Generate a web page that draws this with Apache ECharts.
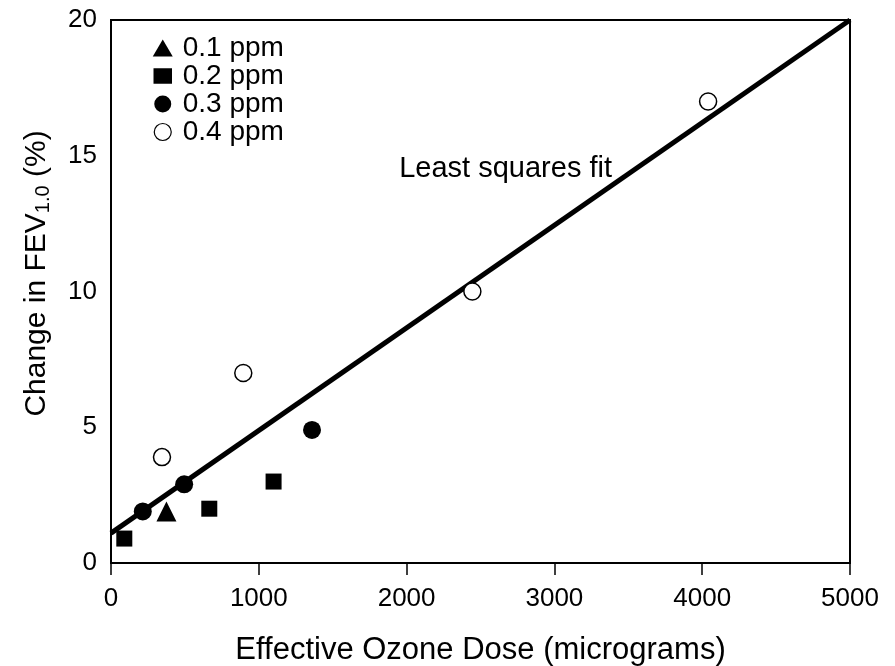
<!DOCTYPE html>
<html>
<head>
<meta charset="utf-8">
<title>Change in FEV1.0 vs Effective Ozone Dose</title>
<script src="https://cdn.jsdelivr.net/npm/echarts@6/dist/echarts.min.js"></script>
<style>
    html, body { margin: 0; padding: 0; background: #fff; }
    #chart { width: 895px; height: 666px; }
</style>
</head>
<body>
<div id="chart"></div>
<script>
    // data: [dose (micrograms), change in FEV1.0 (%)]
    var ppm01 = [[375, 1.9]];
    var ppm02 = [[90, 0.9], [665, 2.0], [1100, 3.0]];
    var ppm03 = [[215, 1.9], [495, 2.9], [1360, 4.9]];
    var ppm04 = [[345, 3.9], [895, 7.0], [2445, 10.0], [4040, 17.0]];
    var fitLine = [[0, 1.1], [5000, 20]];
    var fitLabel = [2670, 14.5];
    var xTicks = [0, 1000, 2000, 3000, 4000, 5000];
    var yTicks = [0, 5, 10, 15, 20];

    var font = 'Liberation Sans, Arial, sans-serif';
    var myChart = echarts.init(document.getElementById('chart'));

    var option = {
        backgroundColor: '#fff',
        animation: false,
        grid: {
            left: 111, right: 45, top: 20, bottom: 103,
            outerBoundsMode: 'none',
            show: true, borderColor: '#000', borderWidth: 2, backgroundColor: 'transparent'
        },
        legend: {
            orient: 'vertical',
            left: 147, top: 29,
            itemGap: 0,
            itemWidth: 20, itemHeight: 17,
            textStyle: { fontFamily: font, fontSize: 28, color: '#000', padding: [0, 0, 0, 5] },
            data: [
                { name: '0.1 ppm', icon: 'triangle' },
                { name: '0.2 ppm', icon: 'rect', itemStyle: { borderColor: '#fff', borderWidth: 1.5 } },
                { name: '0.3 ppm', icon: 'circle' },
                { name: '0.4 ppm', icon: 'circle', itemStyle: { borderColor: '#000', borderWidth: 1.2, color: '#fff' } }
            ]
        },
        xAxis: {
            type: 'value',
            min: xTicks[0], max: xTicks[xTicks.length - 1], interval: 1000,
            name: 'Effective Ozone Dose (micrograms)',
            nameLocation: 'middle', nameGap: 72,
            nameTextStyle: { fontFamily: font, fontSize: 31, color: '#000' },
            axisLine: { lineStyle: { color: '#000', width: 2 } },
            axisTick: { show: true, length: 12, lineStyle: { color: '#000', width: 1.5 } },
            axisLabel: {
                fontFamily: font, fontSize: 26, color: '#000', margin: 23,
                formatter: function (v) { return String(v); }
            },
            splitLine: { show: false }
        },
        yAxis: {
            type: 'value',
            min: yTicks[0], max: yTicks[yTicks.length - 1], interval: 5,
            name: '{n|Change in FEV}{s|1.0}{n| (%)}',
            nameLocation: 'middle', nameGap: 58,
            nameTextStyle: {
                fontFamily: font, fontSize: 30, color: '#000', padding: [0, 0, 0, 36],
                rich: {
                    n: { fontFamily: font, fontSize: 30, color: '#000' },
                    s: { fontFamily: font, fontSize: 20, color: '#000', padding: [13, 0, 0, 0] }
                }
            },
            axisLine: { show: true, lineStyle: { color: '#000', width: 2 } },
            axisTick: { show: false },
            axisLabel: { fontFamily: font, fontSize: 26, color: '#000', margin: 14 },
            splitLine: { show: false }
        },
        series: [
            {
                name: 'Least squares fit',
                type: 'line',
                data: fitLine,
                symbol: 'none',
                lineStyle: { color: '#000', width: 5 },
                z: 1,
                markPoint: {
                    symbol: 'rect', symbolSize: 0,
                    data: [{ coord: fitLabel, value: 'Least squares fit' }],
                    label: {
                        show: true, formatter: 'Least squares fit',
                        fontFamily: font, fontSize: 29, color: '#000', position: 'inside'
                    }
                }
            },
            {
                name: '0.1 ppm', type: 'scatter', data: ppm01,
                symbol: 'triangle', symbolSize: 20,
                itemStyle: { color: '#000', opacity: 1 }, z: 3
            },
            {
                name: '0.2 ppm', type: 'scatter', data: ppm02,
                symbol: 'rect', symbolSize: 16,
                itemStyle: { color: '#000', opacity: 1 }, z: 3
            },
            {
                name: '0.3 ppm', type: 'scatter', data: ppm03,
                symbol: 'circle', symbolSize: 18,
                itemStyle: { color: '#000', opacity: 1 }, z: 3
            },
            {
                name: '0.4 ppm', type: 'scatter', data: ppm04,
                symbol: 'circle', symbolSize: 17,
                itemStyle: { color: '#fff', borderColor: '#000', borderWidth: 1.5, opacity: 1 }, z: 3
            }
        ]
    };
    myChart.setOption(option);
</script>
</body>
</html>
